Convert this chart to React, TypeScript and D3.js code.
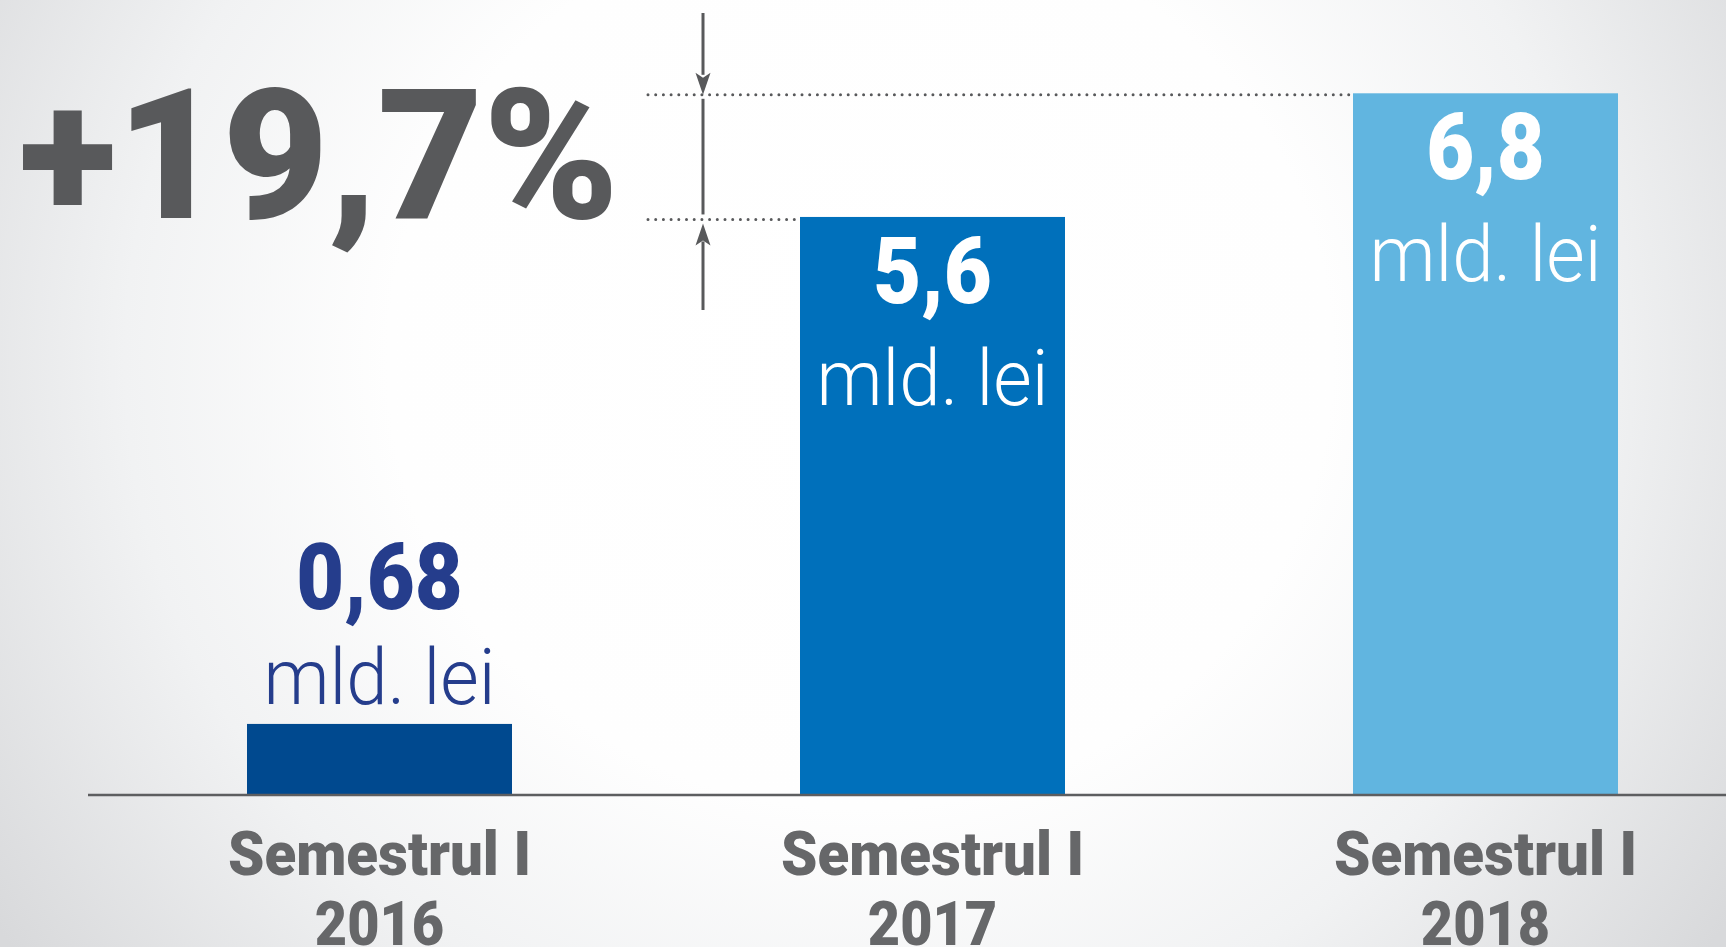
import React from "react";
import * as d3 from "d3";

const years = ["2016", "2017", "2018"];
const semesters = ["Semestrul I", "Semestrul I", "Semestrul I"];
const values = [0.68, 5.6, 6.8];
const valueLabels = ["0,68", "5,6", "6,8"];
const unitLabel = "mld. lei";
const headline = "+19,7%";
const barColors = ["#00498f", "#0070bb", "#61b5e0"];
const labelColors = ["#253d8c", "#ffffff", "#ffffff"];

const W = 1726;
const H = 947;
const GRAY = "#58595b";
const FONT = "Roboto, 'Open Sans', sans-serif";

export default function App() {
  const x = d3.scaleBand<string>().domain(years).range([247, 1618]).paddingInner(0.5208).paddingOuter(0);
  const y = d3.scaleLinear().domain([0, 6.8]).range([794, 93.3]);
  const bw = x.bandwidth();

  const i2017 = 1;
  const i2018 = 2;
  const lineX = 703;
  const dotStart = 648;
  const yHigh = y(values[i2018]) + 1.5;
  const yLow = y(values[i2017]) + 2.5;
  const headLen = 22;
  const headHalf = 7.5;

  return (
    <svg width={W} height={H} style={{ position: "fixed", left: 0, top: 0 }} fontFamily={FONT}>
      <defs>
        <radialGradient id="bg" gradientUnits="userSpaceOnUse" cx={860} cy={360} r={1050} fx={860} fy={360}
          gradientTransform="translate(860 360) scale(1 0.95) translate(-860 -360)">
          <stop offset="0" stopColor="#ffffff" />
          <stop offset="0.45" stopColor="#fefefe" />
          <stop offset="0.7" stopColor="#f1f2f3" />
          <stop offset="1" stopColor="#d8d9db" />
        </radialGradient>
      </defs>
      <rect x={0} y={0} width={W} height={H} fill="url(#bg)" />

      {/* headline */}
      <text x={19} y={218} fontSize={182} fontWeight={900} fill={GRAY} textLength={600} lengthAdjust="spacingAndGlyphs">
        {headline}
      </text>

      {/* dotted guide lines */}
      <line x1={dotStart} x2={x(years[i2018])!} y1={yHigh} y2={yHigh} stroke={GRAY} strokeWidth={3}
        strokeLinecap="round" strokeDasharray="0 7.7" />
      <line x1={dotStart} x2={x(years[i2017])!} y1={yLow} y2={yLow} stroke={GRAY} strokeWidth={3}
        strokeLinecap="round" strokeDasharray="0 7.7" />

      {/* vertical arrows */}
      <line x1={lineX} x2={lineX} y1={13} y2={yHigh - headLen + 2} stroke={GRAY} strokeWidth={3} />
      <path d={`M${lineX - headHalf},${yHigh - headLen} L${lineX},${yHigh - headLen + 5} L${lineX + headHalf},${yHigh - headLen} L${lineX},${yHigh} Z`} fill={GRAY} />
      <line x1={lineX} x2={lineX} y1={yHigh + 4} y2={yLow - 5} stroke={GRAY} strokeWidth={3} />
      <path d={`M${lineX - headHalf},${yLow + headLen + 4} L${lineX},${yLow + headLen - 1} L${lineX + headHalf},${yLow + headLen + 4} L${lineX},${yLow + 4} Z`} fill={GRAY} />
      <line x1={lineX} x2={lineX} y1={yLow + headLen} y2={310} stroke={GRAY} strokeWidth={3} />

      {/* bars */}
      {years.map((yr, i) => (
        <rect key={yr} x={x(yr)} y={y(values[i])} width={bw} height={y(0) - y(values[i])} fill={barColors[i]} />
      ))}

      {/* axis line */}
      <line x1={88} x2={W} y1={795} y2={795} stroke="#5d5e60" strokeWidth={2.5} />

      {/* value labels */}
      {years.map((yr, i) => {
        const cx = x(yr)! + bw / 2;
        const top = y(values[i]);
        const inside = top < 600;
        const vBase = inside ? top + 86 : top - 115;
        const uBase = inside ? top + 188 : top - 20;
        return (
          <g key={"lbl" + yr} fill={labelColors[i]} textAnchor="middle">
            <text transform={`translate(${cx},${vBase}) scale(0.9,1)`} fontSize={92} fontWeight={900}>{valueLabels[i]}</text>
            <text x={cx} y={uBase} fontSize={77} fontWeight={300} textLength={232} lengthAdjust="spacingAndGlyphs">{unitLabel}</text>
          </g>
        );
      })}

      {/* category labels */}
      {years.map((yr, i) => {
        const cx = x(yr)! + bw / 2;
        return (
          <g key={"cat" + yr} fill="#666769" textAnchor="middle" fontWeight={900}>
            <text x={cx} y={875} fontSize={62} textLength={303} lengthAdjust="spacingAndGlyphs">{semesters[i]}</text>
            <text transform={`translate(${cx},945) scale(0.9,1)`} fontSize={62}>{yr}</text>
          </g>
        );
      })}
    </svg>
  );
}
